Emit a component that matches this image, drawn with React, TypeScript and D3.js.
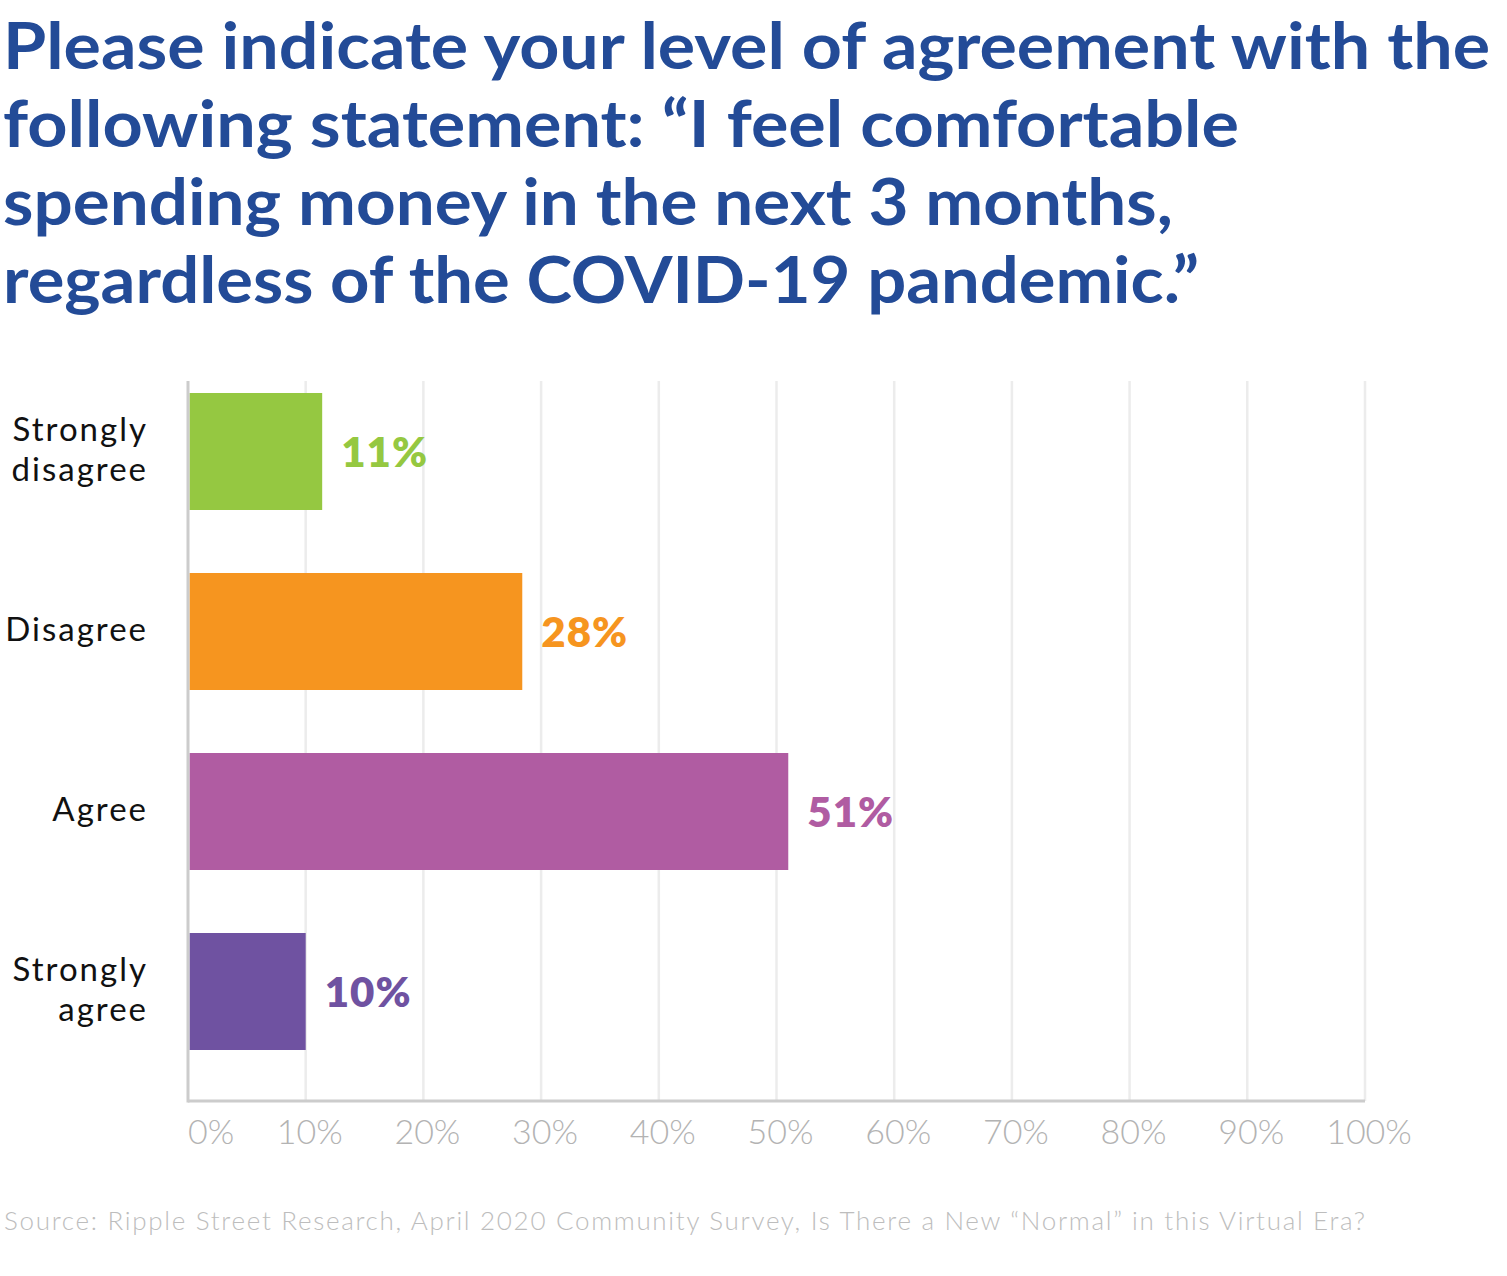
import React from "react";
import * as d3 from "d3";

const titleLines = [
  "Please indicate your level of agreement with the",
  "following statement: \u201cI feel comfortable",
  "spending money in the next 3 months,",
  "regardless of the COVID-19 pandemic.\u201d",
];
const categories = ["Strongly disagree", "Disagree", "Agree", "Strongly agree"];
const values = [11.4, 28.4, 51, 10];
const barColors = ["#95c841", "#f6951f", "#b05ca2", "#6f52a1"];
const tickValues = [0, 10, 20, 30, 40, 50, 60, 70, 80, 90, 100];
const sourceText =
  "Source: Ripple Street Research, April 2020 Community Survey,  Is There a New \u201cNormal\u201d in this Virtual Era?";

const W = 1507;
const H = 1276;

export default function App() {
  const plotLeft = 188;
  const plotRight = 1365;
  const plotTop = 381;
  const plotBottom = 1101;

  const x = d3.scaleLinear().domain([0, 100]).range([plotLeft, plotRight]);
  const y = d3
    .scaleBand<string>()
    .domain(categories)
    .range([361.5, 1081.5])
    .paddingInner(0.35)
    .paddingOuter(0.175);

  const titleWidths = [1487, 1236, 1170, 1196];
  const fmt = (v: number) => `${Math.round(v)}%`;
  const font = "Lato, 'Open Sans', sans-serif";

  return (
    <svg
      width={W}
      height={H}
      viewBox={`0 0 ${W} ${H}`}
      style={{ position: "absolute", left: 0, top: 0, background: "#fff" }}
    >
      {/* Title */}
      {titleLines.map((line, i) => (
        <text
          key={i}
          x={3}
          y={69 + i * 78}
          fill="#234b97"
          fontFamily={font}
          fontWeight={700}
          fontSize={65}
          textLength={titleWidths[i]}
          lengthAdjust="spacingAndGlyphs"
        >
          {line}
        </text>
      ))}

      {/* Gridlines */}
      {tickValues.slice(1).map((t) => (
        <line
          key={t}
          x1={x(t)}
          x2={x(t)}
          y1={plotTop}
          y2={plotBottom}
          stroke="#ececec"
          strokeWidth={2.5}
        />
      ))}

      {/* Bars */}
      {categories.map((c, i) => (
        <rect
          key={c}
          x={x(0) + 1.5}
          y={y(c)}
          width={x(values[i]) - x(0) - 1.5}
          height={y.bandwidth()}
          fill={barColors[i]}
        />
      ))}

      {/* Axes */}
      <line x1={plotLeft} x2={plotLeft} y1={plotTop} y2={plotBottom + 1.5} stroke="#cccccc" strokeWidth={3} />
      <line x1={plotLeft} x2={plotRight} y1={plotBottom} y2={plotBottom} stroke="#cccccc" strokeWidth={3} />

      {/* Value labels */}
      {categories.map((c, i) => (
        <text
          key={c}
          x={x(values[i]) + 19}
          y={(y(c) as number) + y.bandwidth() / 2}
          dy="0.36em"
          fill={barColors[i]}
          fontFamily={font}
          fontWeight={800}
          fontSize={42}
          letterSpacing={1}
        >
          {fmt(values[i])}
        </text>
      ))}

      {/* Category labels */}
      {categories.map((c) => {
        const words = c.split(" ");
        const cy = (y(c) as number) + y.bandwidth() / 2;
        return (
          <text
            key={c}
            textAnchor="end"
            fill="#111"
            fontFamily={font}
            fontWeight={400}
            fontSize={33}
            letterSpacing={2}
          >
            {words.map((w, j) => (
              <tspan key={j} x={148} y={cy + (j - (words.length - 1) / 2) * 40 + 9}>
                {w}
              </tspan>
            ))}
          </text>
        );
      })}

      {/* Tick labels */}
      {tickValues.map((t, i) => (
        <text
          key={t}
          x={i === 0 ? x(t) : x(t) + 4}
          y={1144}
          textAnchor={i === 0 ? "start" : "middle"}
          fill="#b3b3b3"
          fontFamily={font}
          fontWeight={300}
          fontSize={34}
        >
          {`${t}%`}
        </text>
      ))}

      {/* Source */}
      <text
        x={4}
        y={1230}
        fill="#bdbdbd"
        fontFamily={font}
        fontWeight={300}
        fontSize={26}
        textLength={1361}
        lengthAdjust="spacing"
      >
        {sourceText}
      </text>
    </svg>
  );
}
